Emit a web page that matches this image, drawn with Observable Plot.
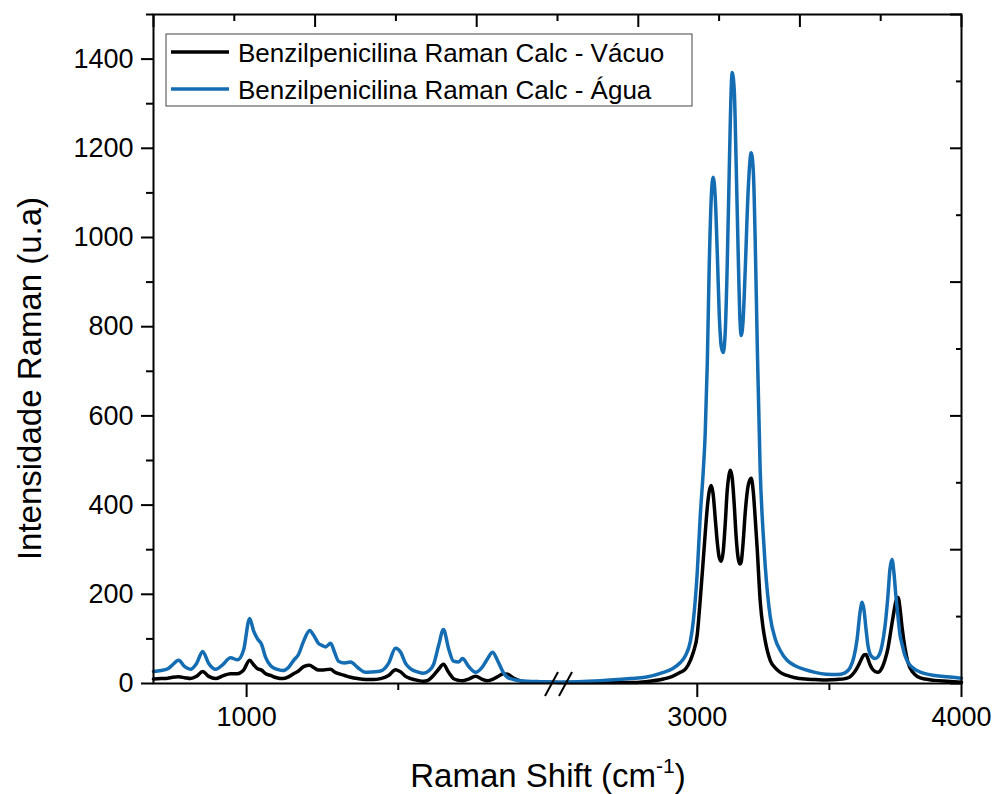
<!DOCTYPE html>
<html>
<head>
<meta charset="utf-8">
<script src="https://cdn.jsdelivr.net/npm/d3@7"></script>
<script src="https://cdn.jsdelivr.net/npm/@observablehq/plot@0.6"></script>
<style>
  body { margin: 0; background: #fff; }
  #chart { position: relative; width: 996px; height: 794px; }
  #chart svg { position: absolute; left: 0; top: 0; }
</style>
</head>
<body>
<div id="chart"></div>
<script>
// Raman shift (cm-1): left segment (fingerprint) then right segment (stretching), broken axis
const wavenumber = [693,717,740,756,776,796,815,835,855,875, 898,921,947,970,990,1010,1023,1036,1049,1063,
  1079,1099,1119,1138,1155,1171,1188,1208,1221,1237, 1250,1260,1277,1290,1303,1323,1343,1366,1392,1415,
  1442,1468,1491,1508,1524,1541,1564,1583,1600,1616, 1633,1649,1666,1682,1699,1712,1732,1755,1775,1794,
  1811,1827,1847,1860,1880,1903,1926,1969,2025,
  2471,2633,2747,2803,2872,2906,2936,2955,2974,2985, 3000,3011,3023,3030,3038,3045,3053,3060,3068,3076,
  3083,3091,3098,3106,3113,3121,3125,3132,3140,3147, 3155,3162,3166,3174,3181,3193,3204,3212,3219,3227,
  3238,3249,3257,3276,3295,3314,3340,3370,3408,3446, 3488,3529,3559,3578,3593,3605,3616,3624,3631,3639,
  3646,3654,3661,3673,3684,3699,3710,3722,3729,3737, 3744,3752,3760,3767,3775,3786,3797,3816,3835,3862,
  3899,3945,4000];

const vacuo = [10,11,12,14,15,13,11,16,27,16, 11,17,22,22,30,52,42,33,30,22,
  18,13,11,15,22,28,38,41,36,30, 30,31,32,26,22,18,14,11,9,9,
  11,18,31,26,16,11,7,5,8,18, 32,43,25,11,7,6,10,16,10,6,
  9,15,22,21,12,6,4,3,3,
  2,2,2,4,10,16,25,32,52,70, 110,186,280,336,395,430,444,425,370,315,
  283,274,295,360,430,470,478,462,400,330, 280,268,272,320,380,445,460,430,373,300,
  186,125,96,52,35,25,18,13,10,9, 8,9,11,15,24,35,48,58,64,65,
  55,42,34,27,25,35,52,80,105,135, 160,185,193,170,126,80,48,25,15,10,
  7,5,3];

const agua = [27,29,33,42,52,38,32,45,72,45, 32,42,58,53,75,146,118,100,88,58,
  40,32,29,36,52,65,95,119,108,90, 85,82,90,70,50,46,48,36,25,26,
  28,45,79,70,45,33,26,23,28,42, 85,121,78,50,48,56,38,25,35,55,
  70,52,24,14,9,6,5,4,3,
  3,6,11,14,25,33,47,62,95,140, 250,373,480,560,720,930,1090,1135,1090,960,
  830,755,742,790,930,1150,1260,1370,1330,1170, 960,810,780,820,920,1110,1190,1150,1000,760,
  480,340,265,150,100,74,52,40,31,25, 21,20,24,35,60,100,160,182,165,120,
  85,66,60,56,60,85,126,200,255,278, 250,195,148,110,88,63,48,35,28,22,
  18,15,12];

const xSegments = [693, 2025, 2471, 4000];   // left segment end / right segment start = axis break
const xMajorTicks = [1000, 3000, 4000];
const xMinorTicks = [1500, 3500];
const yMajorTicks = [0, 200, 400, 600, 800, 1000, 1200, 1400];
const yMinorTicks = [100, 300, 500, 700, 900, 1100, 1300, 1500];
const oppositeMajor = [0, 2, 4, 6, 8, 10];
const oppositeMinor = [1, 3, 5, 7, 9];
const seriesNames = ["Benzilpenicilina Raman Calc - Vácuo", "Benzilpenicilina Raman Calc - Água"];
const seriesColors = ["#000000", "#146db3"];
const xTitle = "Raman Shift (cm";
const xTitleSup = "-1";
const yTitle = "Intensidade Raman (u.a)";

const data = wavenumber.map((w, i) => ({w, vacuo: vacuo[i], agua: agua[i]}));

const W = 996, H = 794, mL = 153, mR = 35, mT = 14, mB = 111;
const mid = (mL + W - mR) / 2;
const font = "'Liberation Sans', Arial, Helvetica, sans-serif";

const chart = Plot.plot({
  width: W, height: H,
  marginLeft: mL, marginRight: mR, marginTop: mT, marginBottom: mB,
  style: {fontFamily: font, background: "transparent", color: "black", overflow: "visible"},
  x: {type: "linear", domain: xSegments, range: [mL, mid, mid, W - mR]},
  y: {domain: [0, 1500]},
  marks: [
    Plot.line(data, {x: "w", y: "vacuo", stroke: seriesColors[0], strokeWidth: 3.5, curve: "monotone-x"}),
    Plot.line(data, {x: "w", y: "agua", stroke: seriesColors[1], strokeWidth: 3.5, curve: "monotone-x"}),
    Plot.frame({stroke: "black", strokeWidth: 2}),
    Plot.axisX(xMajorTicks, {anchor: "bottom", tickSize: 14, tickPadding: 9, fontSize: 27, strokeWidth: 2, label: null, tickFormat: d => String(d)}),
    Plot.axisX(xMinorTicks, {anchor: "bottom", tickSize: 7, strokeWidth: 2, label: null, tickFormat: () => ""}),
    Plot.axisY(yMajorTicks, {anchor: "left", tickSize: 12, tickPadding: 8, fontSize: 27, strokeWidth: 2, label: null, tickFormat: d => String(d)}),
    Plot.axisY(yMinorTicks, {anchor: "left", tickSize: 7, strokeWidth: 2, label: null, tickFormat: () => ""})
  ]
});

// Opposite (top / right) axes: Origin-style decorative axes, ten even divisions, ticks inward
const opposite = Plot.plot({
  width: W, height: H,
  marginLeft: mL, marginRight: mR, marginTop: mT, marginBottom: mB,
  style: {fontFamily: font, background: "transparent", color: "black", overflow: "visible"},
  x: {domain: [0, 10]},
  y: {domain: [0, 10]},
  marks: [
    Plot.axisX(oppositeMajor, {anchor: "top", tickSize: -12, strokeWidth: 2, label: null, tickFormat: () => ""}),
    Plot.axisX(oppositeMinor, {anchor: "top", tickSize: -6, strokeWidth: 2, label: null, tickFormat: () => ""}),
    Plot.axisY(oppositeMajor, {anchor: "right", tickSize: -12, strokeWidth: 2, label: null, tickFormat: () => ""}),
    Plot.axisY(oppositeMinor, {anchor: "right", tickSize: -6, strokeWidth: 2, label: null, tickFormat: () => ""})
  ]
});
opposite.style.pointerEvents = "none";

const container = document.getElementById("chart");
container.appendChild(chart);
container.appendChild(opposite);

const svg = d3.select(chart);
const xs = chart.scale("x");
const xb = xs.apply(xSegments[1]);
const y0 = H - mB;

// axis break marks
const brk = svg.append("g").attr("stroke", "black").attr("stroke-width", 2);
brk.append("line").attr("x1", xb - 12).attr("y1", y0 + 13).attr("x2", xb + 1).attr("y2", y0 - 11);
brk.append("line").attr("x1", xb + 2).attr("y1", y0 + 13).attr("x2", xb + 15).attr("y2", y0 - 11);

// axis titles
const xt = svg.append("text")
  .attr("x", mid - 9).attr("y", 787)
  .attr("text-anchor", "middle")
  .attr("font-family", font).attr("font-size", 33).attr("fill", "black");
xt.append("tspan").text(xTitle);
xt.append("tspan").attr("font-size", 21).attr("dy", -14).text(xTitleSup);
xt.append("tspan").attr("dy", 14).text(")");

svg.append("text")
  .attr("transform", `translate(41,${(mT + y0) / 2 + 30}) rotate(-90)`)
  .attr("text-anchor", "middle")
  .attr("font-family", font).attr("font-size", 33).attr("fill", "black")
  .text(yTitle);

// legend
const lg = svg.append("g");
lg.append("rect").attr("x", 166).attr("y", 34).attr("width", 526).attr("height", 72)
  .attr("fill", "white").attr("stroke", "#444").attr("stroke-width", 1);
seriesNames.forEach((name, i) => {
  const cy = 52 + i * 37;
  lg.append("line").attr("x1", 171).attr("x2", 229).attr("y1", cy).attr("y2", cy)
    .attr("stroke", seriesColors[i]).attr("stroke-width", 3.5);
  lg.append("text").attr("x", 238).attr("y", cy + 9.5)
    .attr("text-anchor", "start")
    .attr("font-family", font).attr("font-size", 26).attr("fill", "black").text(name);
});
</script>
</body>
</html>
